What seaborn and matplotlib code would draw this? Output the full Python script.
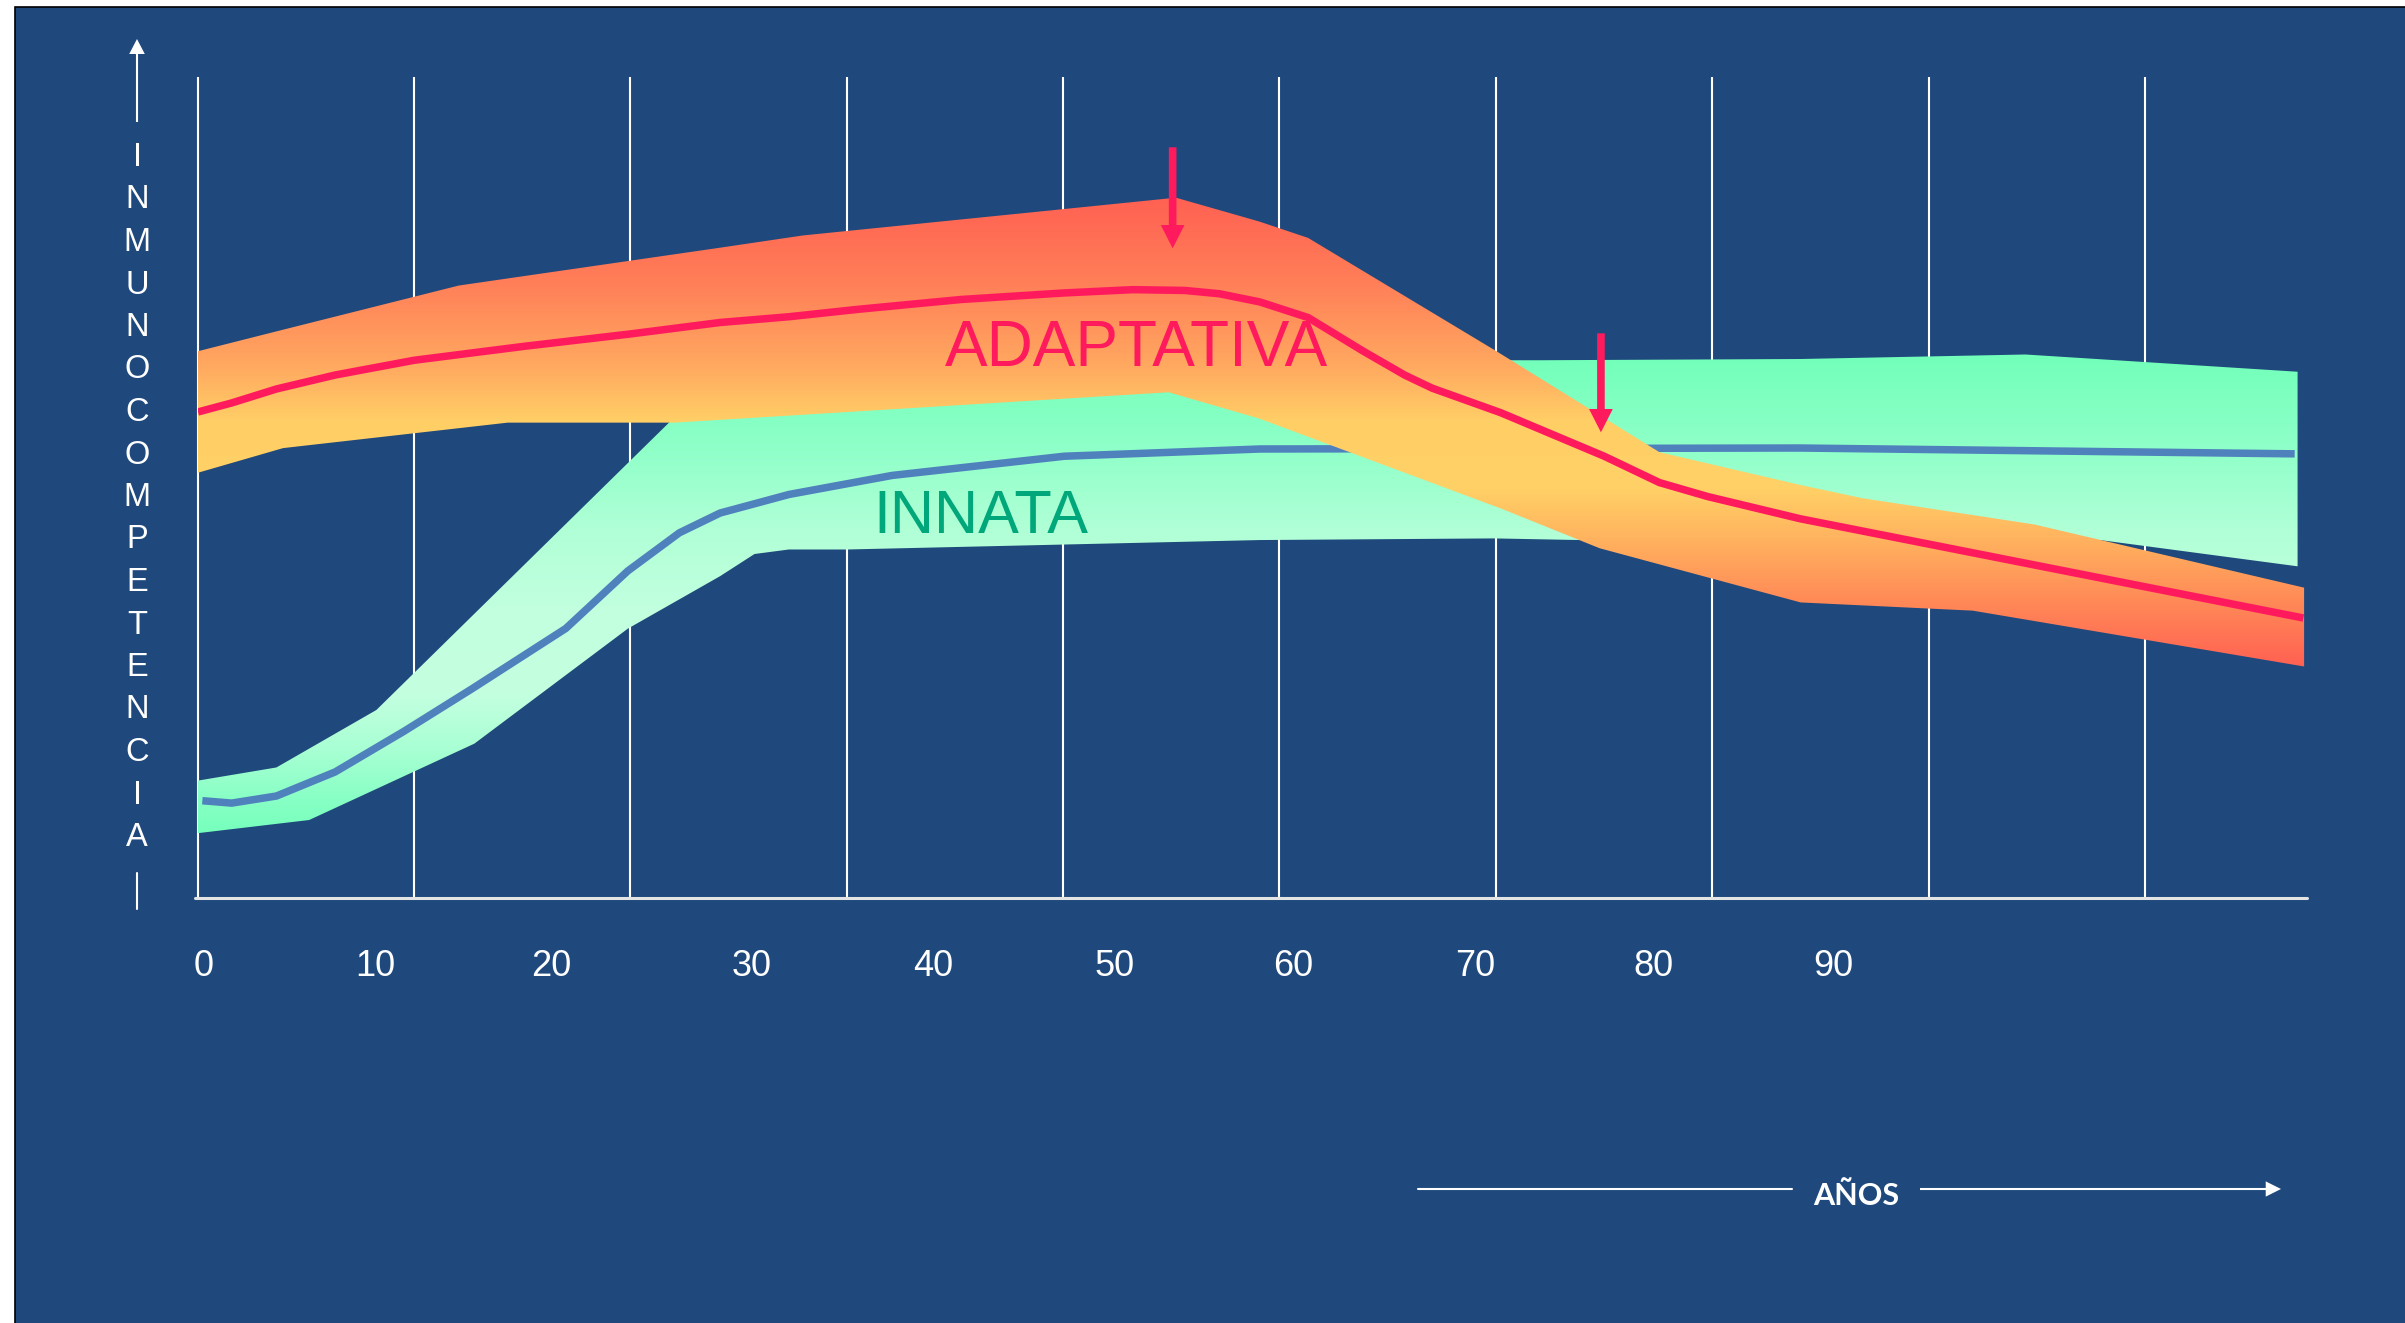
import numpy as np
import matplotlib
matplotlib.use('Agg')
import matplotlib.pyplot as plt
from matplotlib.patches import Polygon, Rectangle
from matplotlib.colors import to_rgb
import seaborn as sns

# x = edad (años), y = inmunocompetencia (0-100)
tick_pos = [0.0, 9.5, 19.2, 30.3, 40.3, 50.3, 60.2, 70.2, 80.05, 90.0]
tick_labels = ['0', '10', '20', '30', '40', '50', '60', '70', '80', '90']
grid_x = [-0.3, 11.64, 23.56, 35.52, 47.48, 59.41, 71.37, 83.31, 95.28, 107.22]

# banda adaptativa
adapt_top_x = [-0.3, 4.0, 14.1, 28.5, 33.1, 47.0, 53.7, 58.3, 61.0, 71.4, 80.4, 88.2, 91.6, 101.1, 116.0]
adapt_top_y = [66.6, 69.0, 74.6, 79.2, 80.7, 83.8, 85.3, 82.4, 80.4, 66.6, 54.3, 50.3, 48.7, 45.5, 37.8]
adapt_low_x = [-0.3, 4.4, 16.8, 26.0, 53.3, 58.3, 71.7, 77.1, 88.2, 97.7, 116.0]
adapt_low_y = [51.8, 54.8, 57.9, 57.9, 61.6, 58.4, 47.4, 42.6, 36.0, 35.0, 28.2]
adapt_mid_x = [-0.3, 1.56, 4.03, 7.27, 11.64, 17.72, 23.56, 28.53, 32.33, 36.13, 41.83, 47.54, 51.34,
               54.2, 56.1, 58.34, 61.0, 64.05, 66.33, 67.85, 71.65, 77.36, 80.4, 83.06, 88.16, 115.96]
adapt_mid_y = [59.2, 60.3, 62.0, 63.7, 65.5, 67.2, 68.7, 70.1, 70.8, 71.7, 72.9, 73.7, 74.1,
               74.0, 73.6, 72.6, 70.7, 66.6, 63.7, 62.1, 59.1, 53.8, 50.6, 48.9, 46.2, 34.1]

# banda innata
innate_top_x = [-0.3, 4.03, 9.55, 25.71, 28.53, 58.3, 72.04, 73.75, 88.16, 100.61, 115.64]
innate_top_y = [14.3, 15.9, 22.9, 57.9, 65.0, 65.0, 65.5, 65.5, 65.65, 66.2, 64.1]
innate_low_x = [-0.3, 5.84, 14.96, 23.43, 28.53, 30.43, 32.33, 35.56, 58.34, 71.26, 76.01, 104.73, 115.64]
innate_low_y = [7.9, 9.5, 18.8, 32.8, 39.2, 41.9, 42.45, 42.45, 43.6, 43.8, 43.6, 43.6, 40.4]
innate_mid_x = [-0.06, 1.56, 4.03, 7.27, 11.07, 14.87, 20.01, 23.43, 26.28, 28.53, 32.33, 38.03,
                47.54, 58.34, 88.16, 115.48]
innate_mid_y = [11.85, 11.56, 12.42, 15.35, 20.3, 25.54, 32.83, 39.83, 44.48, 46.89, 49.15, 51.47,
                53.81, 54.69, 54.81, 54.1]

# flechas rojas (edad, inicio, punta)
arrow_x = [53.52, 77.17]
arrow_top = [91.44, 68.78]
arrow_tip = [79.13, 56.72]

NAVY = '#1F497D'
RED = '#FF1A5E'
BLUE = '#4F81BD'
GREEN_TXT = '#00A77A'

sns.set_style('white')
plt.rcParams['font.family'] = ['Liberation Sans', 'DejaVu Sans']


def vgrad(stops_v, stops_c, n=600):
    vs = np.linspace(0, 100, n)
    rgb = np.array([to_rgb(c) for c in stops_c])
    sv = np.array(stops_v)
    order = np.argsort(sv)
    cols = np.stack([np.interp(vs, sv[order], rgb[order, i]) for i in range(3)], axis=1)
    return cols[:, None, :]


def band(ax, tx, ty, lx, ly, grad, z):
    pts = list(zip(tx, ty)) + list(zip(lx, ly))[::-1]
    poly = Polygon(pts, closed=True, fc='none', ec='none', zorder=z)
    ax.add_patch(poly)
    im = ax.imshow(grad, extent=[-0.3, 116.16, 0, 100], origin='lower', aspect='auto',
                   interpolation='bilinear', zorder=z)
    im.set_clip_path(poly)


fig = plt.figure(figsize=(24.05, 13.23), dpi=100, facecolor='white')

# fondo y decoraciones en pixeles
bg = fig.add_axes([0, 0, 1, 1])
bg.set_xlim(0, 2405)
bg.set_ylim(1323, 0)
bg.axis('off')
bg.add_patch(Rectangle((15, 7), 2400, 1320, fc=NAVY, ec='black', lw=1.2))

for k, ch in enumerate('INMUNOCOMPETENCIA'):
    bg.text(137, 166 + 42.5 * k, ch, ha='center', va='baseline', color='white', fontsize=23.5)
bg.annotate('', xy=(137, 39), xytext=(137, 122),
            arrowprops=dict(arrowstyle='simple,head_length=10.8,head_width=11.2,tail_width=1.5',
                            mutation_scale=1, color='white', lw=0, shrinkA=0, shrinkB=0))
bg.plot([137, 137], [873, 909], color='white', lw=1.5)

bg.plot([1418, 1792], [1189, 1189], color='white', lw=1.5)
bg.annotate('', xy=(2281, 1189), xytext=(1920, 1189),
            arrowprops=dict(arrowstyle='simple,head_length=11,head_width=11,tail_width=1.5',
                            mutation_scale=1, color='white', lw=0, shrinkA=0, shrinkB=0))
bg.text(1856, 1205, 'AÑOS', family=['Lato', 'DejaVu Sans'], weight='bold', fontsize=22,
        color='white', ha='center', va='baseline')

# grafico
ax = fig.add_axes([198 / 2405, (1323 - 898) / 1323, (2307 - 198) / 2405, (898 - 77) / 1323])
ax.set_facecolor('none')
sns.despine(ax=ax, left=True, bottom=True)

ax.vlines(grid_x, 0, 100, colors='white', lw=1.5, zorder=1, clip_on=False)
ax.plot([-0.48, 116.16], [0, 0], color='#E4E4E4', lw=2.2, clip_on=False, zorder=2)

green = vgrad([66, 55, 45, 35, 25, 18, 12, 7],
              ['#72FFBA', '#8EFFC8', '#B0FFD6', '#C2FFDF', '#C4FFE0', '#A8FFD3', '#88FFC5', '#72FFBA'])
band(ax, innate_top_x, innate_top_y, innate_low_x, innate_low_y, green, 2)

sns.lineplot(x=innate_mid_x, y=innate_mid_y, sort=False, estimator=None, color=BLUE,
             linewidth=5.4, solid_capstyle='butt', ax=ax, zorder=3, legend=False)

orange = vgrad([86, 75, 65, 58, 50, 44, 37, 28],
               ['#FF5F52', '#FF7F58', '#FFA860', '#FFCF66', '#FFD166', '#FFB45F', '#FF8E58', '#FF6052'])
band(ax, adapt_top_x, adapt_top_y, adapt_low_x, adapt_low_y, orange, 4)

sns.lineplot(x=adapt_mid_x, y=adapt_mid_y, sort=False, estimator=None, color=RED,
             linewidth=5.4, solid_capstyle='butt', solid_joinstyle='round', ax=ax, zorder=5,
             legend=False)

for x, y0, y1 in zip(arrow_x, arrow_top, arrow_tip):
    ax.annotate('', xy=(x, y1), xytext=(x, y0), zorder=7,
                arrowprops=dict(arrowstyle='simple,head_length=16.8,head_width=17.1,tail_width=5.5',
                                mutation_scale=1, color=RED, lw=0, shrinkA=0, shrinkB=0))

ax.text(51.55, 64.8, 'ADAPTATIVA', color=RED, fontsize=46, ha='center', va='baseline', zorder=7)
ax.text(42.94, 44.48, 'INNATA', color=GREEN_TXT, fontsize=44, ha='center', va='baseline', zorder=7)

ax.set_xlim(-0.3, 116.16)
ax.set_ylim(0, 100)
ax.set_xticks(tick_pos, tick_labels)
ax.set_yticks([])
ax.set_xlabel('')
ax.set_ylabel('')
ax.tick_params(axis='x', length=0, pad=37, labelsize=26, labelcolor='white')

fig.savefig('out.png', dpi=100, facecolor='white')
